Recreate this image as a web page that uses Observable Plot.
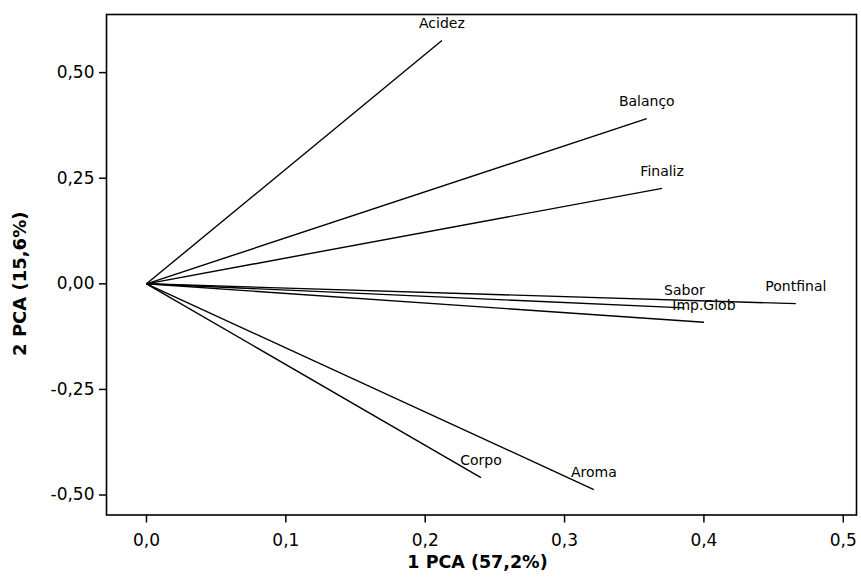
<!DOCTYPE html>
<html>
<head>
<meta charset="utf-8">
<script src="https://cdn.jsdelivr.net/npm/d3@7"></script>
<script src="https://cdn.jsdelivr.net/npm/@observablehq/plot@0.6"></script>
<style>
  html, body { margin: 0; padding: 0; background: white; }
</style>
</head>
<body>
<div id="chart"></div>
<script>
const names = ["Acidez", "Balanço", "Finaliz", "Sabor", "Pontfinal", "Imp.Glob", "Corpo", "Aroma"];
const pc1 = [0.212, 0.359, 0.370, 0.386, 0.466, 0.400, 0.240, 0.321];
const pc2 = [0.576, 0.391, 0.226, -0.057, -0.047, -0.091, -0.459, -0.487];
const xTicks = [0, 0.1, 0.2, 0.3, 0.4, 0.5];
const yTicks = [-0.5, -0.25, 0, 0.25, 0.5];
const xTitle = "1 PCA (57,2%)";
const yTitle = "2 PCA (15,6%)";

const data = names.map((n, i) => ({name: n, x: pc1[i], y: pc2[i]}));

const chart = Plot.plot({
  width: 861,
  height: 578,
  marginLeft: 106,
  marginRight: 5,
  marginTop: 14,
  marginBottom: 63.5,
  x: {domain: [-0.0287, 0.5095]},
  y: {domain: [-0.5473, 0.6376]},
  style: {fontFamily: "DejaVu Sans", background: "white", color: "black"},
  marks: [
    Plot.link(data, {x1: 0, y1: 0, x2: "x", y2: "y", stroke: "black", strokeWidth: 1.4}),
    Plot.text(data, {x: "x", y: "y", text: "name", dy: -17, fontSize: 14, fill: "black"}),
    Plot.frame({stroke: "black", strokeWidth: 1.6}),
    Plot.axisX({ticks: xTicks, tickFormat: d => d.toFixed(1).replace(".", ","), tickSize: 8, tickPadding: 11, fontSize: 17, strokeWidth: 1.5, label: null}),
    Plot.axisY({ticks: yTicks, tickFormat: d => d.toFixed(2).replace(".", ","), tickSize: 7, tickPadding: 5, fontSize: 17, strokeWidth: 1.5, label: null}),
    Plot.text([xTitle], {frameAnchor: "bottom", textAnchor: "middle", dx: -4, dy: 52.5, fontWeight: "bold", fontSize: 17.5, fill: "black"}),
    Plot.text([yTitle], {frameAnchor: "left", textAnchor: "middle", rotate: -90, dx: -86, dy: 19, fontWeight: "bold", fontSize: 18, fill: "black"})
  ]
});
document.getElementById("chart").appendChild(chart);
</script>
</body>
</html>
